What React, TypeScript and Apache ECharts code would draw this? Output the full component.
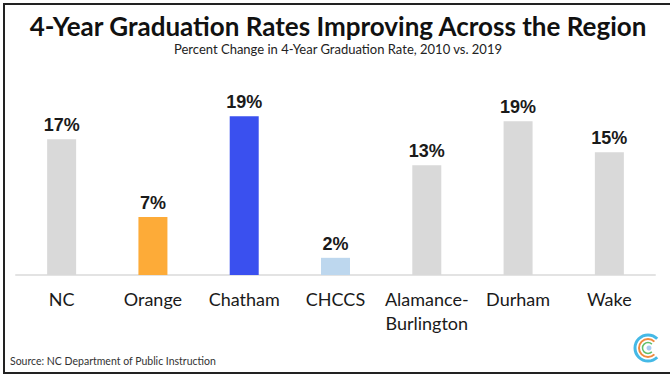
import React, { useEffect, useRef } from "react";
import * as echarts from "echarts";

const categories = ["NC", "Orange", "Chatham", "CHCCS", "Alamance-\nBurlington", "Durham", "Wake"];
const values = [16.6, 7.1, 19.4, 2.1, 13.4, 18.8, 15.0];
const valueLabels = ["17%", "7%", "19%", "2%", "13%", "19%", "15%"];
const barColors = ["#d9d9d9", "#fdab38", "#3a50ef", "#bdd7ee", "#d9d9d9", "#d9d9d9", "#d9d9d9"];

const titleText = "4-Year Graduation Rates Improving Across the Region";
const subtitleText = "Percent Change in 4-Year Graduation Rate, 2010 vs. 2019";
const sourceText = "Source: NC Department of Public Instruction";

export default function App() {
  const ref = useRef<HTMLDivElement>(null);
  useEffect(() => {
    document.body.style.margin = "0";
    if (!ref.current) return;
    const chart = echarts.init(ref.current, undefined, { renderer: "svg" });
    chart.setOption({
      animation: false,
      backgroundColor: "#ffffff",
      grid: { left: 16, right: 15, top: 95, bottom: 101, containLabel: false },
      xAxis: {
        type: "category",
        data: categories,
        axisLine: { show: true, lineStyle: { color: "#e3e3e3", width: 2 } },
        axisTick: { show: false },
        axisLabel: {
          color: "#1a1a1a",
          fontFamily: "Lato",
          fontSize: 18,
          lineHeight: 24,
          margin: 12,
          interval: 0,
        },
      },
      yAxis: {
        type: "value",
        min: 0,
        max: 22,
        show: false,
        splitLine: { show: false },
      },
      series: [
        {
          type: "bar",
          barWidth: 29,
          data: values.map((v, i) => ({ value: v, itemStyle: { color: barColors[i] } })),
          label: {
            show: true,
            position: "top",
            distance: 5,
            fontFamily: "Liberation Sans",
            fontWeight: "bold",
            fontSize: 18,
            color: "#1a1a1a",
            formatter: (p: any) => valueLabels[p.dataIndex],
          },
        },
      ],
      graphic: [
        {
          type: "rect",
          shape: { x: 4, y: 4, width: 680, height: 369 },
          style: { fill: "none", stroke: "#222", lineWidth: 2 },
          silent: true,
        },
        {
          type: "text",
          x: 338,
          y: 26,
          style: {
            text: titleText,
            fontFamily: "Lato",
            fontWeight: "bold",
            fontSize: 26,
            fill: "#111",
            align: "center",
            verticalAlign: "middle",
          },
        },
        {
          type: "text",
          x: 338,
          y: 49,
          style: {
            text: subtitleText,
            fontFamily: "Lato",
            fontSize: 13,
            fill: "#222",
            align: "center",
            verticalAlign: "middle",
          },
        },
        {
          type: "text",
          x: 10,
          y: 361,
          style: {
            text: sourceText,
            fontFamily: "Lato",
            fontSize: 10.5,
            fill: "#333",
            align: "left",
            verticalAlign: "middle",
          },
        },
        {
          type: "arc",
          shape: { cx: 648, cy: 348, r: 13, startAngle: Math.PI / 4, endAngle: (7 * Math.PI) / 4, clockwise: true },
          style: { stroke: "#45b9e6", lineWidth: 3, fill: "none" },
        },
        {
          type: "arc",
          shape: { cx: 648, cy: 348, r: 9, startAngle: Math.PI / 4, endAngle: (7 * Math.PI) / 4, clockwise: true },
          style: { stroke: "#f08a3e", lineWidth: 2, fill: "none" },
        },
        {
          type: "arc",
          shape: { cx: 648, cy: 348, r: 5.5, startAngle: Math.PI / 4, endAngle: (7 * Math.PI) / 4, clockwise: true },
          style: { stroke: "#62bf6a", lineWidth: 1.5, fill: "none" },
        },
        {
          type: "circle",
          shape: { cx: 649, cy: 348, r: 2.5 },
          style: { fill: "#a9cdf2" },
        },
      ],
    });
    return () => chart.dispose();
  }, []);
  return <div ref={ref} style={{ position: "fixed", left: 0, top: 0, width: 670, height: 376 }} />;
}
